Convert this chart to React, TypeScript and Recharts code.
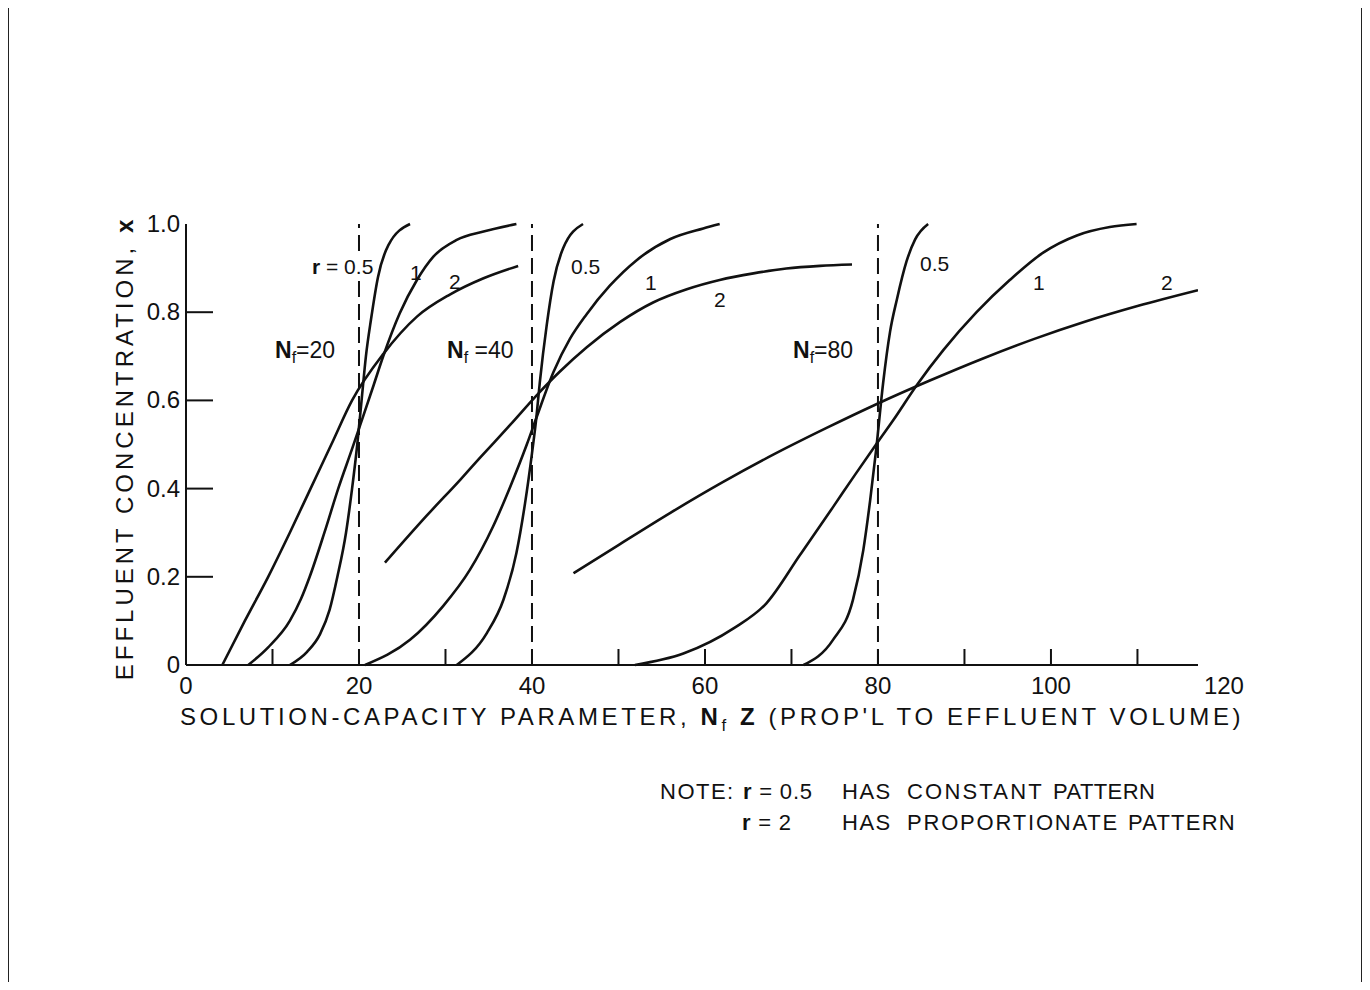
import { LineChart, Line, XAxis, YAxis, ReferenceLine } from "recharts";

const INK = "#111";
const FONT = "'Liberation Sans', Arial, sans-serif";

// x ticks every 10, labels every 20; y ticks every 0.2
const xTicks = [0, 10, 20, 30, 40, 50, 60, 70, 80, 90, 100, 110, 120];
const yTicks = [0, 0.2, 0.4, 0.6, 0.8, 1.0];
const nfLines = [20, 40, 80];

// curves: [NfZ, x]
const nf20r05 = [[12.0, 0], [14.0, 0.03], [15.5, 0.07], [16.6, 0.125], [17.5, 0.2], [18.5, 0.3], [19.2, 0.4], [19.8, 0.5], [20.3, 0.6], [20.8, 0.7], [21.4, 0.785], [22.2, 0.88], [23.4, 0.952], [25.9, 1.0]];
const nf20r1 = [[7.2, 0], [9.5, 0.04], [12.0, 0.1], [13.3, 0.15], [14.3, 0.2], [16.0, 0.3], [17.6, 0.4], [19.2, 0.49], [20.5, 0.565], [21.7, 0.635], [22.8, 0.7], [24.7, 0.797], [26.7, 0.873], [28.6, 0.926], [31.3, 0.964], [34.4, 0.983], [38.2, 1.0]];
const nf20r2 = [[4.2, 0], [6.8, 0.1], [9.5, 0.2], [12.0, 0.3], [14.4, 0.4], [16.8, 0.5], [19.2, 0.6], [22.8, 0.705], [26.7, 0.79], [30.5, 0.84], [34.4, 0.877], [38.4, 0.905]];

const nf40r05 = [[31.3, 0], [34.8, 0.073], [36.7, 0.148], [38.2, 0.254], [39.2, 0.367], [40.0, 0.48], [40.5, 0.56], [40.9, 0.64], [41.7, 0.77], [42.5, 0.87], [43.6, 0.945], [45.9, 1.0]];
const nf40r1 = [[20.7, 0], [25.9, 0.057], [29.7, 0.133], [32.8, 0.215], [35.5, 0.314], [37.5, 0.405], [39.4, 0.5], [40.5, 0.56], [42.5, 0.665], [44.4, 0.74], [46.3, 0.795], [49.0, 0.86], [52.1, 0.918], [56.0, 0.966], [59.8, 0.99], [61.7, 1.0]];
const nf40r2 = [[23.0, 0.232], [27.8, 0.338], [31.7, 0.42], [34.0, 0.47], [37.5, 0.545], [40.7, 0.615], [43.2, 0.665], [46.3, 0.72], [50.2, 0.778], [54.0, 0.822], [57.9, 0.852], [61.7, 0.873], [65.6, 0.888], [69.4, 0.899], [73.3, 0.905], [77.0, 0.908]];

const nf80r05 = [[71.4, 0], [74.8, 0.057], [77.1, 0.147], [78.3, 0.26], [79.1, 0.374], [79.8, 0.49], [80.6, 0.64], [81.4, 0.756], [82.2, 0.83], [83.3, 0.915], [84.3, 0.965], [85.8, 1.0]];
const nf80r1 = [[51.9, 0], [57.5, 0.026], [63.3, 0.083], [67.1, 0.14], [71.0, 0.25], [74.8, 0.358], [77.3, 0.43], [80.0, 0.506], [81.8, 0.556], [84.5, 0.635], [87.6, 0.715], [91.4, 0.8], [95.3, 0.874], [99.1, 0.935], [103.0, 0.974], [106.8, 0.993], [109.9, 1.0]];
const nf80r2 = [[44.8, 0.208], [50.0, 0.272], [56.0, 0.345], [62.0, 0.414], [68.0, 0.478], [74.0, 0.537], [80.0, 0.593], [86.0, 0.645], [92.0, 0.694], [98.0, 0.739], [104.0, 0.779], [110.0, 0.814], [117.0, 0.85]];

const series = [nf20r05, nf20r1, nf20r2, nf40r05, nf40r1, nf40r2, nf80r05, nf80r1, nf80r2];

const toPts = (rows: number[][]) => rows.map(([x, y]) => ({ x, y }));

const BottomTick = (props: any) => {
  const { x, y, payload } = props;
  const v = payload.value;
  return (
    <g>
      {v > 0 && v < 117 && <line x1={x} y1={y} x2={x} y2={y - 16} stroke={INK} strokeWidth={2} />}
      {v % 20 === 0 && (
        <text x={x} y={y + 29} textAnchor="middle" fontSize={24} fill={INK} fontFamily={FONT}>
          {v}
        </text>
      )}
    </g>
  );
};

const TopTick = (props: any) => {
  const { x, y, payload } = props;
  const v = payload.value;
  if (v <= 0 || v >= 117) return <g />;
  return <line x1={x} y1={y} x2={x} y2={y + 16} stroke={INK} strokeWidth={2} />;
};

const LeftTick = (props: any) => {
  const { x, y, payload } = props;
  const v = payload.value;
  const label = v === 0 ? "0" : v.toFixed(1);
  return (
    <g>
      {v > 0 && v < 1 && <line x1={x} y1={y} x2={x + 27} y2={y} stroke={INK} strokeWidth={2} />}
      <text x={x - 6} y={y} dy={8} textAnchor="end" fontSize={24} fill={INK} fontFamily={FONT}>
        {label}
      </text>
    </g>
  );
};

const RightTick = (props: any) => {
  const { x, y, payload } = props;
  const v = payload.value;
  if (v <= 0 || v >= 1) return <g />;
  return <line x1={x} y1={y} x2={x - 27} y2={y} stroke={INK} strokeWidth={2} />;
};

const txt: React.CSSProperties = {
  position: "absolute",
  color: INK,
  fontFamily: FONT,
  whiteSpace: "nowrap",
  lineHeight: 1,
  transform: "translateY(-50%)",
};

function Tag({ x, y, size = 21, sp = 0, bg, children }: { x: number; y: number; size?: number; sp?: number; bg?: string; children: React.ReactNode }) {
  return (
    <span style={{ ...txt, left: x - 8, top: y - 8, fontSize: size, letterSpacing: sp, background: bg }}>
      {children}
    </span>
  );
}

const Nf = () => (
  <>
    <b>N</b>
    <sub style={{ fontSize: "0.7em" }}>f</sub>
  </>
);

// page frame edges, in page pixels
const edge = (left: number, top: number, width: number, height: number) => (
  <div
    style={{
      position: "absolute",
      left: left - 8,
      top: top - 8,
      width,
      height,
      background: "#222",
      zIndex: 5,
      pointerEvents: "none",
    }}
  />
);

export default function App() {
  return (
    <div style={{ position: "relative", width: 1354, height: 974 }}>
      <LineChart width={1354} height={974} margin={{ top: 216, right: 164, bottom: 287, left: 118 }}>
        <XAxis
          dataKey="x"
          type="number"
          domain={[0, 117]}
          allowDataOverflow
          ticks={xTicks}
          interval={0}
          height={30}
          tickSize={0}
          tickMargin={0}
          axisLine={{ stroke: INK, strokeWidth: 2 }}
          tick={<BottomTick />}
        />
        <XAxis
          xAxisId="top"
          orientation="top"
          type="number"
          domain={[0, 117]}
          allowDataOverflow
          ticks={xTicks}
          interval={0}
          height={0}
          tickSize={0}
          tickMargin={0}
          axisLine={{ stroke: INK, strokeWidth: 2 }}
          tick={<TopTick />}
        />
        <YAxis
          type="number"
          domain={[0, 1]}
          ticks={yTicks}
          interval={0}
          width={60}
          tickSize={0}
          tickMargin={0}
          axisLine={{ stroke: INK, strokeWidth: 2 }}
          tick={<LeftTick />}
        />
        <YAxis
          yAxisId="right"
          orientation="right"
          type="number"
          domain={[0, 1]}
          ticks={yTicks}
          interval={0}
          width={0}
          tickSize={0}
          tickMargin={0}
          axisLine={{ stroke: INK, strokeWidth: 2 }}
          tick={<RightTick />}
        />
        {nfLines.map((v) => (
          <ReferenceLine key={v} x={v} stroke={INK} strokeWidth={2} strokeDasharray="16 7" />
        ))}
        {series.map((s, i) => (
          <Line
            key={i}
            data={toPts(s)}
            dataKey="y"
            type="monotone"
            stroke={INK}
            strokeWidth={2.6}
            dot={false}
            isAnimationActive={false}
          />
        ))}
      </LineChart>

      {/* curve labels */}
      <Tag x={312} y={266} bg="#fff"><b>r</b> = 0.5</Tag>
      <Tag x={410} y={272}>1</Tag>
      <Tag x={449} y={281}>2</Tag>
      <Tag x={275} y={352} size={23}><Nf />=20</Tag>
      <Tag x={447} y={352} size={23}><Nf /> =40</Tag>
      <Tag x={571} y={266}>0.5</Tag>
      <Tag x={645} y={282}>1</Tag>
      <Tag x={714} y={299}>2</Tag>
      <Tag x={793} y={352} size={23}><Nf />=80</Tag>
      <Tag x={920} y={263}>0.5</Tag>
      <Tag x={1033} y={282}>1</Tag>
      <Tag x={1161} y={282}>2</Tag>

      {/* axis titles */}
      <span style={{ ...txt, left: 180 - 8, top: 720 - 8, fontSize: 24, letterSpacing: 3.6 }}>
        SOLUTION-CAPACITY PARAMETER, <Nf /> <b>Z</b> (PROP'L TO EFFLUENT VOLUME)
      </span>
      <span
        style={{
          ...txt,
          left: 125 - 8,
          top: 448 - 8,
          fontSize: 24,
          letterSpacing: 4,
          transform: "translate(-50%, -50%) rotate(-90deg)",
        }}
      >
        EFFLUENT CONCENTRATION, <b>x</b>
      </span>

      {/* note */}
      <Tag x={660} y={792} size={22} sp={1.5}>NOTE:</Tag>
      <Tag x={743} y={792} size={22} sp={0.8}><b>r</b> = 0.5</Tag>
      <Tag x={842} y={792} size={22} sp={1.5}>HAS</Tag>
      <Tag x={907} y={792} size={22} sp={2.2}>CONSTANT</Tag>
      <Tag x={1053} y={792} size={22} sp={0.4}>PATTERN</Tag>
      <Tag x={742} y={823} size={22} sp={0.8}><b>r</b> =  2</Tag>
      <Tag x={842} y={823} size={22} sp={1.5}>HAS</Tag>
      <Tag x={907} y={823} size={22} sp={1.8}>PROPORTIONATE</Tag>
      <Tag x={1128} y={823} size={22} sp={1.2}>PATTERN</Tag>

      {/* page frame */}
      {edge(7, 5, 1356, 2)}
      {edge(7, 984, 1356, 2)}
      {edge(7, 5, 2, 981)}
      {edge(1361, 5, 2, 981)}
    </div>
  );
}
